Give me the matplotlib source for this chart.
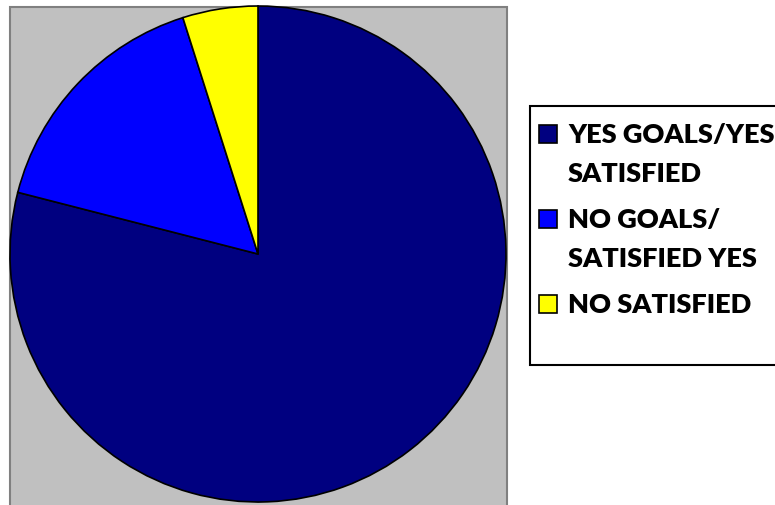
import matplotlib
matplotlib.use('Agg')
from matplotlib import pyplot as plt
from matplotlib.patches import Rectangle

# shares of respondents, in percent
labels = ['YES GOALS/YES\nSATISFIED', 'NO GOALS/\nSATISFIED YES', 'NO SATISFIED']
shares = [79.0, 16.1, 4.9]
colors = ['#000080', '#0000FF', '#FFFF00']

W, H = 775, 506
fig = plt.figure(figsize=(W / 100, H / 100), dpi=100)
ax = fig.add_axes([0, 0, 1, 1])

# gray plot area
ax.add_patch(Rectangle((10, -5), 497, 503, facecolor='#C0C0C0', edgecolor='#808080', lw=1.5, zorder=0))

ax.pie(shares, colors=colors, startangle=90, counterclock=False,
       center=(258, 251), radius=248, frame=True,
       wedgeprops=dict(edgecolor='black', linewidth=1.2))
ax.set_xlim(0, W)
ax.set_ylim(0, H)
ax.set_aspect('equal')
ax.axis('off')

# legend box, runs off the right edge like the original
ax.add_patch(Rectangle((530, 140), 260, 259, facecolor='white', edgecolor='black', lw=1.5, zorder=3))

baselines = [H - 143, H - 228, H - 313]  # first line of each entry
step = 39
for lab, col, y in zip(labels, colors, baselines):
    ax.add_patch(Rectangle((539, y - 1), 18, 18, facecolor=col, edgecolor='black', lw=1.2, zorder=4))
    for i, line in enumerate(lab.split('\n')):
        ax.text(568, y - i * step, line, fontsize=19.5, fontweight='heavy', family='Lato',
                va='baseline', ha='left', zorder=5)

fig.savefig('out.png', dpi=100)
